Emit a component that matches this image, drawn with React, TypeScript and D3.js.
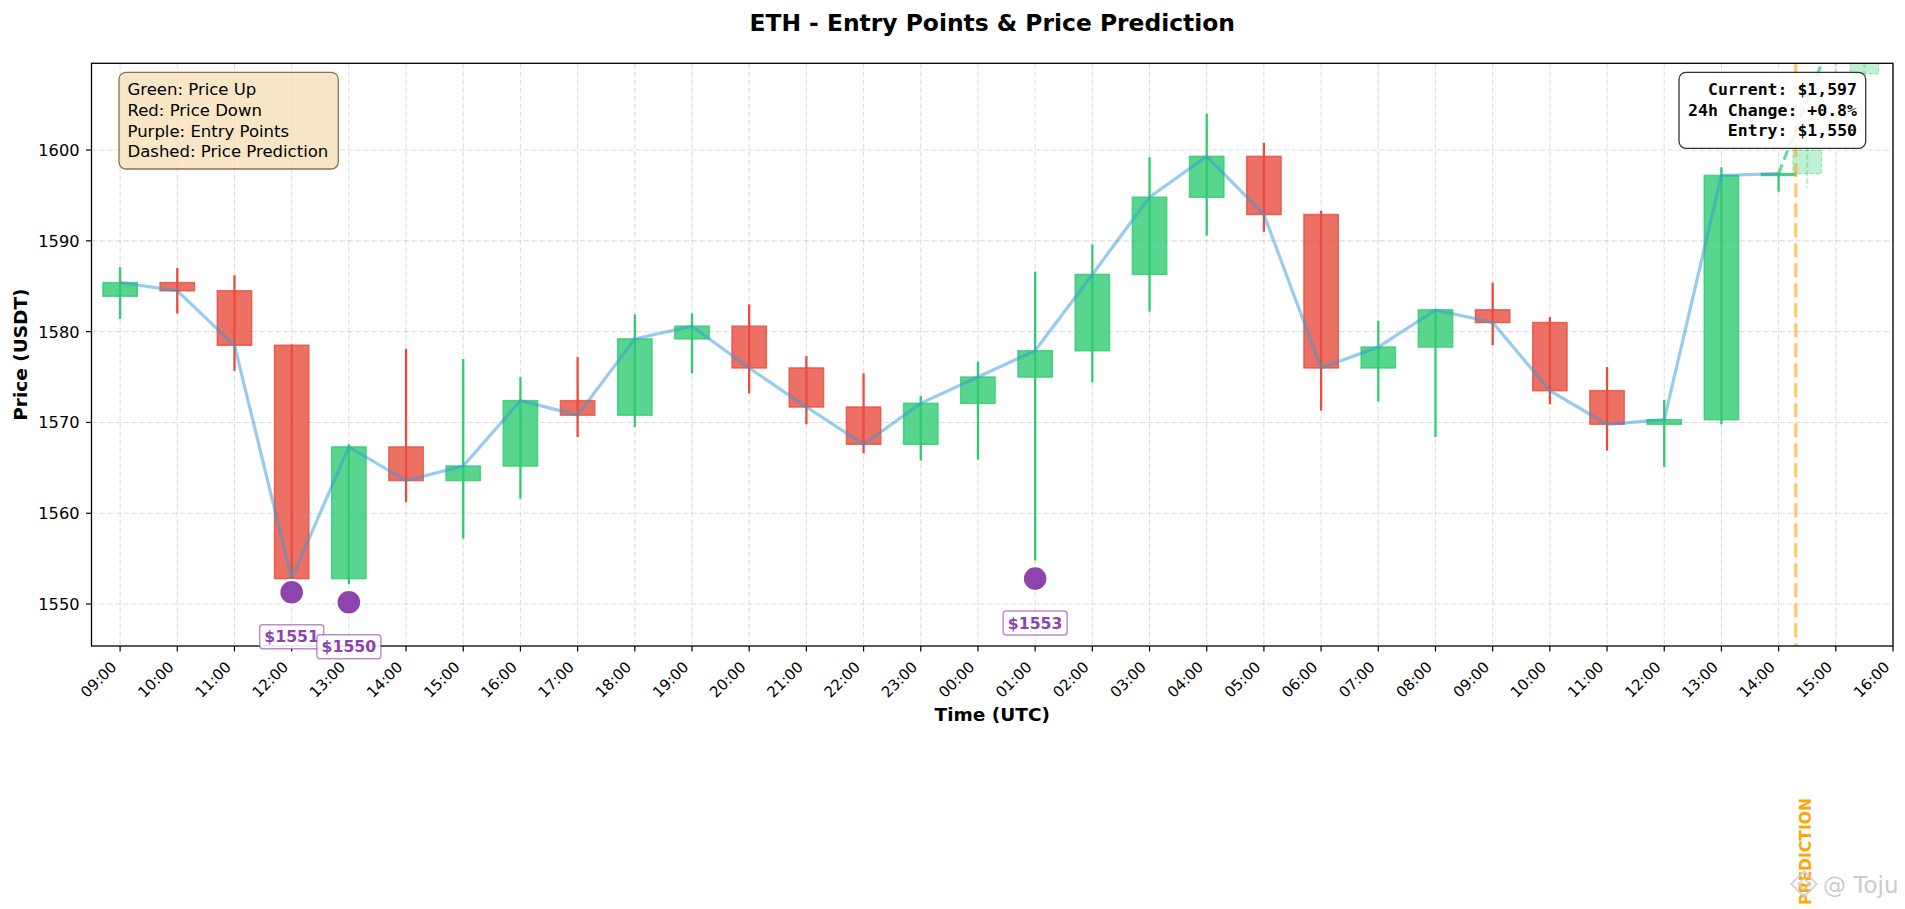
import * as d3 from "d3";

/** svg dimensions */
const width = 1905;
const height = 909;
const plot = { left: 91.5, right: 1893, top: 63.3, bottom: 646 };

/** hourly candles (UTC) */
const times = [
  "09:00", "10:00", "11:00", "12:00", "13:00", "14:00", "15:00", "16:00",
  "17:00", "18:00", "19:00", "20:00", "21:00", "22:00", "23:00", "00:00",
  "01:00", "02:00", "03:00", "04:00", "05:00", "06:00", "07:00", "08:00",
  "09:00", "10:00", "11:00", "12:00", "13:00", "14:00",
];
const opens = [
  1583.9, 1585.4, 1584.5, 1578.5, 1552.8, 1567.3, 1563.6, 1565.2, 1572.4, 1570.8,
  1579.2, 1580.6, 1576.0, 1571.7, 1567.6, 1572.1, 1575.0, 1577.9, 1586.3, 1594.8,
  1599.3, 1592.9, 1576.0, 1578.3, 1582.4, 1581.0, 1573.5, 1569.8, 1570.3, 1597.2,
];
const highs = [
  1587.1, 1587.0, 1586.2, 1578.6, 1567.6, 1578.1, 1577.0, 1575.0, 1577.2, 1581.9,
  1582.0, 1583.0, 1577.3, 1575.4, 1572.9, 1576.7, 1586.6, 1589.6, 1599.2, 1604.0,
  1600.8, 1593.3, 1581.2, 1582.4, 1585.4, 1581.6, 1576.1, 1572.5, 1598.1, 1597.5,
];
const lows = [
  1581.4, 1582.0, 1575.7, 1552.7, 1552.2, 1561.2, 1557.2, 1561.6, 1568.4, 1569.5,
  1575.4, 1573.2, 1569.8, 1566.6, 1565.8, 1565.9, 1554.8, 1574.4, 1582.2, 1590.6,
  1591.0, 1571.3, 1572.3, 1568.4, 1578.5, 1572.0, 1566.9, 1565.1, 1569.8, 1595.4,
];
const closes = [
  1585.4, 1584.5, 1578.5, 1552.8, 1567.3, 1563.6, 1565.2, 1572.4, 1570.8, 1579.2,
  1580.6, 1576.0, 1571.7, 1567.6, 1572.1, 1575.0, 1577.9, 1586.3, 1594.8, 1599.3,
  1592.9, 1576.0, 1578.3, 1582.4, 1581.0, 1573.5, 1569.8, 1570.3, 1597.2, 1597.4,
];

/** entry points (index into candles) */
const entryIndex = [3, 4, 16];
const entryPrices = [1551.3, 1550.2, 1552.8];

/** prediction */
const nowTime = "14:18";
const predTimes = ["14:30", "15:00", "15:30"];
const predOpens = [1597.4, 1614.0, 1608.4];
const predHighs = [1603.0, 1616.0, 1614.0];
const predLows = [1595.8, 1608.5, 1606.0];
const predCloses = [1600.0, 1611.0, 1612.5];
const predLineTimes = ["14:00", "14:30", "15:00", "15:30", "16:00"];
const predLineValues = [1597.4, 1605.5, 1613.5, 1618.0, 1622.0];

const yTicks = [1550, 1560, 1570, 1580, 1590, 1600];
const legendLines = [
  "Green: Price Up",
  "Red: Price Down",
  "Purple: Entry Points",
  "Dashed: Price Prediction",
];
const infoLines = ["Current: $1,597", "24h Change: +0.8%", "Entry: $1,550"];

const GREEN = "#2ecc71";
const RED = "#e74c3c";
const PURPLE = "#8e44ad";
const FONT = "DejaVu Sans";

const at = (label: string, day: number) => {
  const [h, m] = label.split(":").map(Number);
  return new Date(Date.UTC(2023, 5, 1 + day, h, m));
};

// candle dates roll over to the next day after 23:00
let day = 0;
const dates = times.map((t, i) => {
  if (i > 0 && t < times[i - 1]) day++;
  return at(t, day);
});
const candles = dates.map((date, i) => ({
  date,
  open: opens[i],
  high: highs[i],
  low: lows[i],
  close: closes[i],
}));
const predCandles = predTimes.map((t, i) => ({
  date: at(t, 1),
  open: predOpens[i],
  high: predHighs[i],
  low: predLows[i],
  close: predCloses[i],
}));
const predLine = predLineTimes.map((t, i) => ({ date: at(t, 1), value: predLineValues[i] }));

const xScale = d3
  .scaleUtc()
  .domain([at("08:30", 0), at("16:00", 1)])
  .range([plot.left, plot.right]);
const yScale = d3.scaleLinear().domain([1545.38, 1609.55]).range([plot.bottom, plot.top]);

const xTicks = d3.utcHour.range(at("09:00", 0), at("16:01", 1));
const fmt = d3.utcFormat("%H:%M");

const closeLine = d3
  .line<{ date: Date; close: number }>()
  .x((d) => xScale(d.date))
  .y((d) => yScale(d.close));
const predPath = d3
  .line<{ date: Date; value: number }>()
  .x((d) => xScale(d.date))
  .y((d) => yScale(d.value));

const half = (d: Date, minutes: number) =>
  [xScale(d3.utcMinute.offset(d, -minutes)), xScale(d3.utcMinute.offset(d, minutes))];

const App = () => {
  const nowX = xScale(at(nowTime, 1));
  return (
    <svg
      width={width}
      height={height}
      viewBox={[0, 0, width, height].join(" ")}
      style={{ position: "absolute", left: 0, top: 0, background: "#fff" }}
      fontFamily={FONT}
    >
      <defs>
        <clipPath id="plot-clip">
          <rect x={plot.left} y={plot.top} width={plot.right - plot.left} height={plot.bottom - plot.top} />
        </clipPath>
      </defs>
      <rect x={0} y={0} width={width} height={height} fill="#fff" />

      {/* title */}
      <text x={(plot.left + plot.right) / 2} y={31} textAnchor="middle" fontSize={23.4} fontWeight="bold">
        ETH - Entry Points &amp; Price Prediction
      </text>

      {/* grid */}
      <g stroke="#b0b0b0" strokeOpacity={0.4} strokeWidth={1.1} strokeDasharray="5.5,2.5">
        {xTicks.map((t) => (
          <line key={+t} x1={xScale(t)} x2={xScale(t)} y1={plot.top} y2={plot.bottom} />
        ))}
        {yTicks.map((v) => (
          <line key={v} x1={plot.left} x2={plot.right} y1={yScale(v)} y2={yScale(v)} />
        ))}
      </g>

      <g clipPath="url(#plot-clip)">
        {/* candles */}
        {candles.map((c) => {
          const up = c.close >= c.open;
          const color = up ? GREEN : RED;
          const [x0, x1] = half(c.date, 18);
          const yTop = yScale(Math.max(c.open, c.close));
          const yBot = yScale(Math.min(c.open, c.close));
          return (
            <g key={+c.date}>
              <rect
                x={x0}
                y={yTop}
                width={x1 - x0}
                height={Math.max(yBot - yTop, 0.8)}
                fill={color}
                fillOpacity={0.8}
                stroke={color}
                strokeOpacity={0.8}
                strokeWidth={1.5}
              />
              <line
                x1={xScale(c.date)}
                x2={xScale(c.date)}
                y1={yScale(c.high)}
                y2={yScale(c.low)}
                stroke={color}
                strokeWidth={2.3}
              />
            </g>
          );
        })}

        {/* predicted candles */}
        {predCandles.map((c) => {
          const [x0, x1] = half(c.date, 15);
          const yTop = yScale(Math.max(c.open, c.close));
          const yBot = yScale(Math.min(c.open, c.close));
          return (
            <g key={+c.date}>
              <line
                x1={xScale(c.date)}
                x2={xScale(c.date)}
                y1={yScale(c.high)}
                y2={yScale(c.low)}
                stroke={GREEN}
                strokeOpacity={0.35}
                strokeWidth={2.3}
                strokeDasharray="5,3"
              />
              <rect
                x={x0}
                y={yTop}
                width={x1 - x0}
                height={yBot - yTop}
                fill={GREEN}
                fillOpacity={0.3}
                stroke={GREEN}
                strokeOpacity={0.4}
                strokeWidth={1.3}
                strokeDasharray="4,2"
              />
            </g>
          );
        })}

        {/* close price line */}
        <path d={closeLine(candles) ?? ""} fill="none" stroke="#3498db" strokeOpacity={0.5} strokeWidth={3.2} />

        {/* prediction line */}
        <path
          d={predPath(predLine) ?? ""}
          fill="none"
          stroke={GREEN}
          strokeOpacity={0.7}
          strokeWidth={3.2}
          strokeDasharray="10,5"
        />

        {/* current time marker */}
        <line
          x1={nowX}
          x2={nowX}
          y1={plot.top}
          y2={plot.bottom}
          stroke="#ffa500"
          strokeOpacity={0.6}
          strokeWidth={3.2}
          strokeDasharray="14,6"
        />

        {/* entry points */}
        {entryIndex.map((idx, i) => (
          <circle
            key={idx}
            cx={xScale(candles[idx].date)}
            cy={yScale(entryPrices[i])}
            r={12.3}
            fill={PURPLE}
            stroke="#fff"
            strokeWidth={2}
          />
        ))}
      </g>

      {/* spines */}
      <rect
        x={plot.left}
        y={plot.top}
        width={plot.right - plot.left}
        height={plot.bottom - plot.top}
        fill="none"
        stroke="#000"
        strokeWidth={1.3}
      />

      {/* y ticks */}
      {yTicks.map((v) => (
        <g key={v}>
          <line x1={plot.left - 5.5} x2={plot.left} y1={yScale(v)} y2={yScale(v)} stroke="#000" strokeWidth={1.2} />
          <text x={plot.left - 12} y={yScale(v) + 5.9} textAnchor="end" fontSize={16.2}>
            {v}
          </text>
        </g>
      ))}

      {/* x ticks */}
      {xTicks.map((t) => (
        <g key={+t}>
          <line x1={xScale(t)} x2={xScale(t)} y1={plot.bottom} y2={plot.bottom + 5.5} stroke="#000" strokeWidth={1.2} />
          <text
            transform={`translate(${xScale(t) - 2.5}, ${plot.bottom + 22}) rotate(-45)`}
            textAnchor="end"
            fontSize={15}
          >
            {fmt(t)}
          </text>
        </g>
      ))}

      {/* entry labels */}
      {entryIndex.map((idx, i) => {
        const cx = xScale(candles[idx].date);
        const cy = yScale(entryPrices[i]) + 44.5;
        return (
          <g key={idx}>
            <rect
              x={cx - 32}
              y={cy - 12}
              width={64}
              height={24}
              rx={3}
              fill="#fff"
              fillOpacity={0.9}
              stroke={PURPLE}
              strokeOpacity={0.6}
              strokeWidth={1.5}
            />
            <text x={cx} y={cy + 5.7} textAnchor="middle" fontSize={15.7} fontWeight="bold" fill={PURPLE}>
              ${Math.round(entryPrices[i])}
            </text>
          </g>
        );
      })}

      {/* legend box */}
      <rect x={119} y={72.3} width={219.3} height={96.7} rx={7} fill="#f5deb3" fillOpacity={0.75} stroke="#8a7257" strokeWidth={1.3} />
      {legendLines.map((line, i) => (
        <text key={line} x={127.5} y={95 + i * 20.75} fontSize={16.5}>
          {line}
        </text>
      ))}

      {/* info box */}
      <rect x={1679} y={72.3} width={186.7} height={76} rx={7} fill="#fff" fillOpacity={0.85} stroke="#333" strokeWidth={1.3} />
      {infoLines.map((line, i) => (
        <text
          key={line}
          x={1857}
          y={95 + i * 20.5}
          textAnchor="end"
          fontSize={16.5}
          fontWeight="bold"
          fontFamily="DejaVu Sans Mono"
        >
          {line}
        </text>
      ))}

      {/* axis labels */}
      <text
        transform={`translate(27, ${(plot.top + plot.bottom) / 2}) rotate(-90)`}
        textAnchor="middle"
        fontSize={18.5}
        fontWeight="bold"
      >
        Price (USDT)
      </text>
      <text x={(plot.left + plot.right) / 2} y={721} textAnchor="middle" fontSize={18.5} fontWeight="bold">
        Time (UTC)
      </text>

      {/* prediction marker label */}
      <text
        transform={`translate(${nowX + 15}, 798) rotate(-90)`}
        textAnchor="end"
        fontSize={15.6}
        fontWeight="bold"
        fill="#ffa500"
      >
        PREDICTION
      </text>

      {/* watermark */}
      <g opacity={0.85}>
        <g transform="translate(1804, 884) rotate(45)" fill="none" stroke="#d0d0d0" strokeWidth={2}>
          <rect x={-9} y={-9} width={18} height={18} />
          <rect x={-4} y={-4} width={8} height={8} />
        </g>
        <text x={1823} y={893} fontSize={23} fill="#c4c4c4">
          @ Toju
        </text>
      </g>
    </svg>
  );
};

export default App;
